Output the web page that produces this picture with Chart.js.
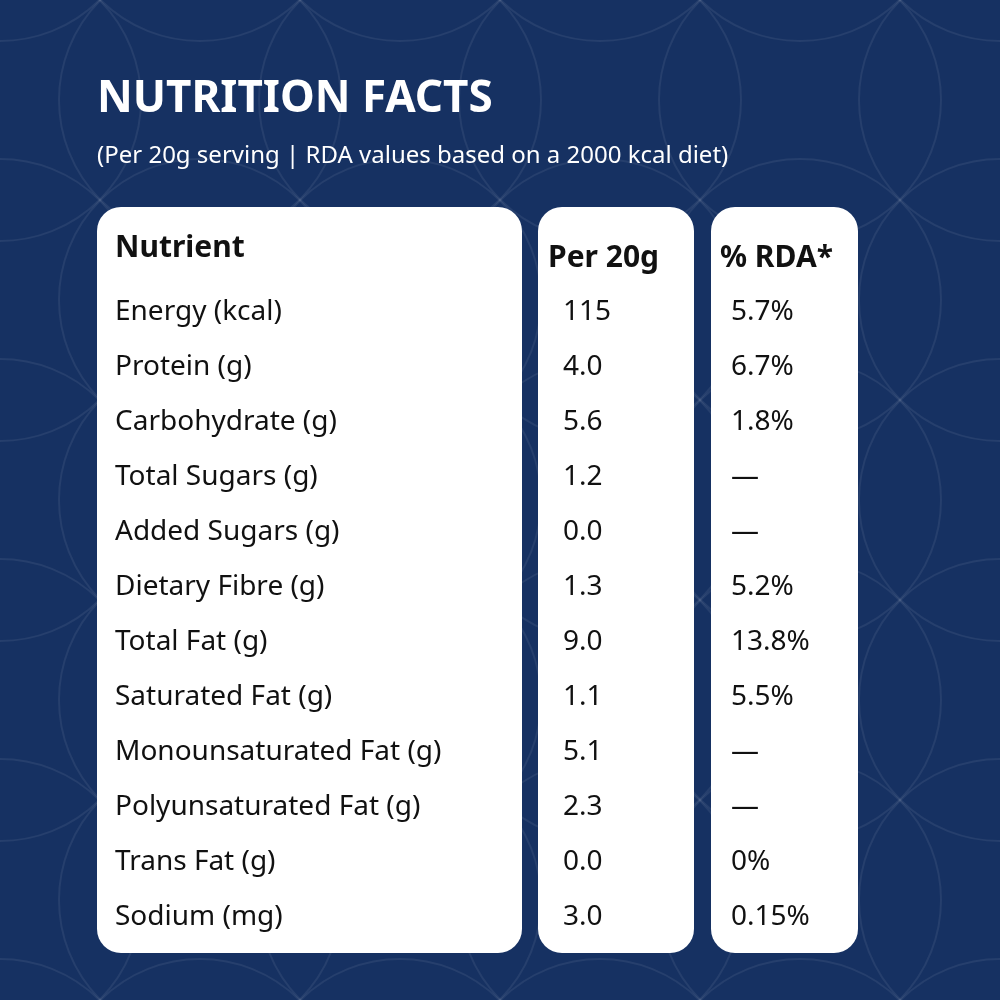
<!DOCTYPE html>
<html>
<head>
<meta charset="utf-8">
<script src="https://cdn.jsdelivr.net/npm/chart.js@4"></script>
<style>
  html, body { margin: 0; padding: 0; background: #163162; }
  #wrap { width: 1000px; height: 1000px; }
</style>
</head>
<body>
<div id="wrap"><canvas id="nutriChart" width="1000" height="1000"></canvas></div>
<script>
const nutrients = ['Energy (kcal)', 'Protein (g)', 'Carbohydrate (g)', 'Total Sugars (g)', 'Added Sugars (g)',
  'Dietary Fibre (g)', 'Total Fat (g)', 'Saturated Fat (g)', 'Monounsaturated Fat (g)',
  'Polyunsaturated Fat (g)', 'Trans Fat (g)', 'Sodium (mg)'];
const per20g = ['115', '4.0', '5.6', '1.2', '0.0', '1.3', '9.0', '1.1', '5.1', '2.3', '0.0', '3.0'];
const rda = ['5.7%', '6.7%', '1.8%', '—', '—', '5.2%', '13.8%', '5.5%', '—', '—', '0%', '0.15%'];
const headers = ['Nutrient', 'Per 20g', '% RDA*'];
const title = 'NUTRITION FACTS';
const subtitle = '(Per 20g serving | RDA values based on a 2000 kcal diet)';

const FONT = '"Noto Sans", Inter, sans-serif';

function roundRect(c, x, y, w, h, r) {
  c.beginPath();
  c.moveTo(x + r, y);
  c.arcTo(x + w, y, x + w, y + h, r);
  c.arcTo(x + w, y + h, x, y + h, r);
  c.arcTo(x, y + h, x, y, r);
  c.arcTo(x, y, x + w, y, r);
  c.closePath();
}

// panels, background pattern and titles
const backdrop = {
  id: 'backdrop',
  beforeDraw(chart) {
    const c = chart.ctx;
    c.save();
    c.strokeStyle = 'rgba(255,255,255,0.07)';
    c.lineWidth = 2;
    for (let gx = 0; gx <= 1000; gx += 200) {
      for (let gy = -100; gy <= 1100; gy += 200) {
        c.beginPath();
        c.arc(gx, gy, 141, 0, Math.PI * 2);
        c.stroke();
      }
    }
    c.fillStyle = '#ffffff';
    roundRect(c, 97, 207, 425, 746, 24); c.fill();
    roundRect(c, 538, 207, 156, 746, 24); c.fill();
    roundRect(c, 711, 207, 147, 746, 24); c.fill();

    c.textBaseline = 'alphabetic';
    c.font = 'bold 44px ' + FONT;
    c.fillText(title, 97, 112);
    c.font = '24px ' + FONT;
    c.fillText(subtitle, 97, 163);
    c.restore();
  }
};

// table cells placed on the category scale rows
const cells = {
  id: 'cells',
  afterDraw(chart) {
    const c = chart.ctx;
    const y = chart.scales.y;
    c.save();
    c.fillStyle = '#111111';
    c.textBaseline = 'middle';
    c.font = 'bold 30px ' + FONT;
    c.fillText(headers[0], 115, 248);
    c.fillText(headers[1], 548, 258);
    c.fillText(headers[2], 720, 258);
    c.font = '28px ' + FONT;
    nutrients.forEach((n, i) => {
      const py = y.getPixelForValue(i);
      c.fillText(n, 115, py);
      c.fillText(per20g[i], 563, py);
      c.fillText(rda[i], 731, py);
    });
    c.restore();
  }
};

new Chart(document.getElementById('nutriChart').getContext('2d'), {
  type: 'bar',
  data: {
    labels: nutrients,
    datasets: [{ data: nutrients.map(() => 0), backgroundColor: 'rgba(0,0,0,0)' }]
  },
  options: {
    indexAxis: 'y',
    responsive: false,
    animation: false,
    layout: { padding: { top: 285, bottom: 55, left: 0, right: 0 } },
    scales: {
      x: { display: false },
      y: { display: false, offset: true }
    },
    plugins: { legend: { display: false }, tooltip: { enabled: false } }
  },
  plugins: [backdrop, cells]
});
</script>
</body>
</html>
